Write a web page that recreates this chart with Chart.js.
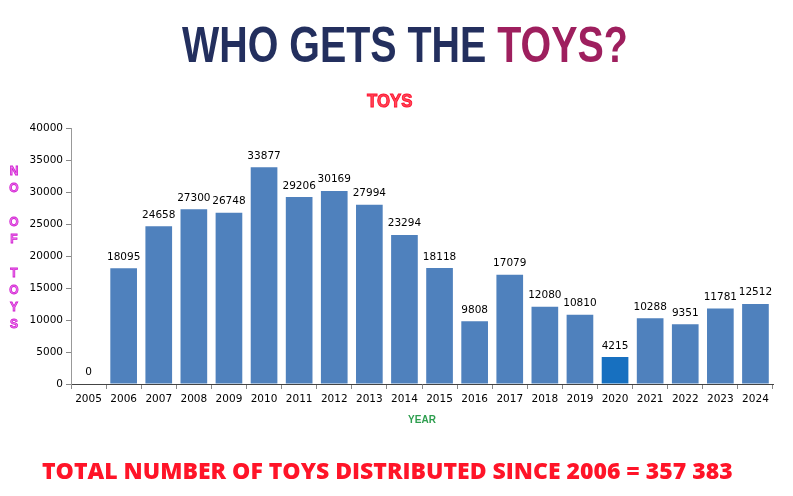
<!DOCTYPE html>
<html>
<head>
<meta charset="utf-8">
<script src="https://cdn.jsdelivr.net/npm/chart.js@4"></script>
<style>
  html, body { margin: 0; padding: 0; background: #fff; }
  #wrap { position: relative; width: 793px; height: 496px; overflow: hidden; }
  #chart { position: absolute; left: 0; top: 0; }
  .txt { position: absolute; white-space: nowrap; transform-origin: 0 0; }
  #mainTitle { top: 16px; font-family: "Liberation Sans", Arial, sans-serif; font-weight: bold; font-size: 50px; color: #232f5e; }
  #mainTitle span { color: #9e1f5e; }
  #toysTitle { top: 90px; font-family: "Liberation Sans", Arial, sans-serif; font-weight: bold; font-size: 19px;
               color: #ff4a58; -webkit-text-stroke: 1px #ff1030; }
  #yTitle { left: 7px; top: 163px; width: 14px; text-align: center; font-family: "Liberation Sans", Arial, sans-serif;
            font-weight: bold; font-size: 12px; line-height: 17px; color: #f080f0; -webkit-text-stroke: 0.8px #d020d0; white-space: pre; }
  #total { top: 454px; font-family: "Open Sans", sans-serif; font-weight: 800; font-size: 23px; color: #ff1428; }
</style>
</head>
<body>
<div id="wrap">
  <canvas id="chart" width="793" height="496"></canvas>
  <div id="mainTitle" class="txt">WHO GETS THE <span>TOYS?</span></div>
  <div id="toysTitle" class="txt">TOYS</div>
  <div id="yTitle" class="txt"></div>
  <div id="total" class="txt">TOTAL NUMBER OF TOYS DISTRIBUTED SINCE 2006 = 357 383</div>
</div>
<script>
// Datos del gráfico
const years = ['2005', '2006', '2007', '2008', '2009', '2010', '2011', '2012', '2013', '2014',
               '2015', '2016', '2017', '2018', '2019', '2020', '2021', '2022', '2023', '2024'];
const toys = [0, 18095, 24658, 27300, 26748, 33877, 29206, 30169, 27994, 23294,
              18118, 9808, 17079, 12080, 10810, 4215, 10288, 9351, 11781, 12512];
const highlightYear = '2020';
const yTitleLetters = ['N', 'O', '', 'O', 'F', '', 'T', 'O', 'Y', 'S'];

// Colores de las barras
const barColors = years.map(y => y === highlightYear ? '#1770c0' : '#4f81bd');

// Ajustar un texto a una posición y ancho dados
function fitText(el, left, width) {
    const w = el.offsetWidth;
    el.style.left = left + 'px';
    el.style.transform = 'scaleX(' + (width / w) + ')';
}

fitText(document.getElementById('mainTitle'), 182, 446);
fitText(document.getElementById('toysTitle'), 367, 45);
fitText(document.getElementById('total'), 42, 691);
document.getElementById('yTitle').textContent = yTitleLetters.join('\n');

// Plugin para las etiquetas de valores
const valueLabels = {
    id: 'valueLabels',
    afterDatasetsDraw(chart) {
        const ctx = chart.ctx;
        const meta = chart.getDatasetMeta(0);
        ctx.save();
        ctx.font = '10.5px "DejaVu Sans", sans-serif';
        ctx.fillStyle = '#000';
        ctx.textAlign = 'center';
        ctx.textBaseline = 'bottom';
        meta.data.forEach((bar, i) => {
            ctx.fillText(String(toys[i]), bar.x, bar.y - 6);
        });
        ctx.restore();
    }
};

const ctx = document.getElementById('chart').getContext('2d');
new Chart(ctx, {
    type: 'bar',
    data: {
        labels: years,
        datasets: [{
            label: 'TOYS',
            data: toys,
            backgroundColor: barColors,
            borderWidth: 0,
            barPercentage: 0.76,
            categoryPercentage: 1.0
        }]
    },
    options: {
        responsive: false,
        animation: false,
        layout: { padding: { top: 128, right: 20, bottom: 62, left: 0 } },
        plugins: {
            legend: { display: false },
            tooltip: { enabled: false }
        },
        scales: {
            x: {
                offset: true,
                grid: { offset: true, drawOnChartArea: false, drawTicks: true, tickLength: 5, color: '#888' },
                border: { color: '#444' },
                ticks: { color: '#000', padding: 4, font: { family: 'DejaVu Sans', size: 10.5 } },
                title: {
                    display: true,
                    text: 'YEAR',
                    color: '#2e9e4f',
                    font: { family: 'Liberation Sans', size: 10, weight: 'bold' },
                    padding: { top: 0, bottom: 8 }
                },
                afterFit(scale) { scale.height = 50; }
            },
            y: {
                min: 0,
                max: 40000,
                grid: { drawOnChartArea: false, drawTicks: true, tickLength: 5, color: '#888' },
                border: { color: '#999' },
                ticks: {
                    stepSize: 5000,
                    color: '#000',
                    padding: 3,
                    font: { family: 'DejaVu Sans', size: 10.5 },
                    callback: value => String(value)
                },
                afterFit(scale) { scale.width = 71; }
            }
        }
    },
    plugins: [valueLabels]
});
</script>
</body>
</html>
